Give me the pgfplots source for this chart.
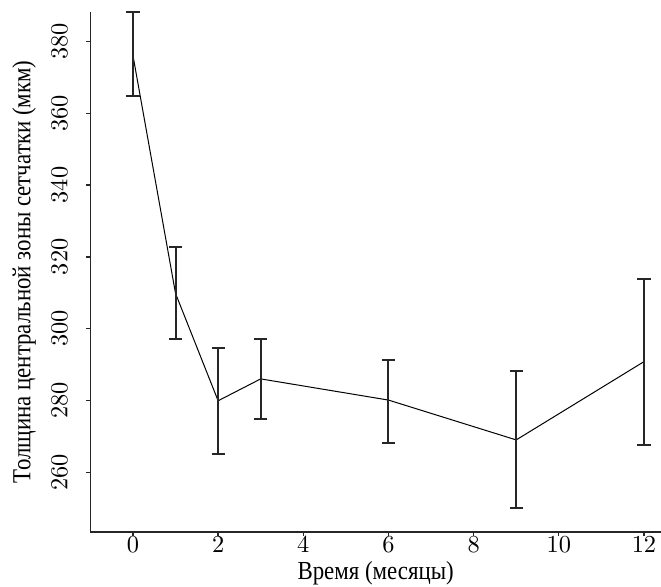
\documentclass[border=0pt]{standalone}
\usepackage{fontspec}
\setmainfont{Liberation Serif}[FakeStretch=0.88]
\newfontfamily\lmr{lmroman10-regular.otf}
\usepackage{pgfplots}
\pgfplotsset{compat=1.18}
\pgfplotstableread{
x y ep em
0 376.1 12.1 11.3
1 309.8 12.8 12.7
2 279.9 14.6 14.9
3 286.0 11.0 11.3
6 280.1 11.3 12.0
9 269.0 19.1 19.1
12 290.8 23.0 23.3
}\datatable
\newcommand\tl[1]{\pgfmathtruncatemacro\tlv{#1}{\lmr\fontsize{12.2pt}{14pt}\selectfont\tlv}}
\begin{document}
\fontsize{13pt}{15pt}\selectfont
\begin{tikzpicture}
\begin{axis}[
  scale only axis, width=285.4pt, height=260pt,
  xmin=-1, xmax=12.4, ymin=243.4, ymax=388.2,
  axis x line*=bottom, axis y line*=left,
  xtick={0,2,...,12}, ytick={260,280,...,380},
  tick align=outside, major tick length=2pt,
  tick style={black!85, line width=0.7pt},
  axis line style={line width=0.8pt, black!85},
  xticklabel={\tl{\tick}}, yticklabel={\tl{\tick}},
  xticklabel style={anchor=north, inner ysep=0pt},
  yticklabel style={rotate=90, anchor=south, inner ysep=9pt},
  xlabel={Время (месяцы)},
  ylabel={Толщина центральной зоны сетчатки (мкм)},
  xlabel style={at={(axis description cs:0.5,-0.0923)}, anchor=base, inner sep=0pt},
  ylabel style={at={(axis description cs:-0.105,0.5)}, anchor=base, inner sep=0pt},
  clip=false,
]
\addplot[black, line width=0.5pt, mark=none,
  error bars/.cd, y dir=both, y explicit,
  error bar style={line width=1pt, black!85},
  error mark options={rotate=90, mark size=3.3pt, line width=1pt, black!85}]
  table[x=x, y=y, y error plus=ep, y error minus=em] {\datatable};
\end{axis}
\pgfresetboundingbox
\useasboundingbox ([xshift=-45.2pt,yshift=-27.5pt]current axis.south west) rectangle ([yshift=6pt]current axis.north east);
\end{tikzpicture}
\end{document}
